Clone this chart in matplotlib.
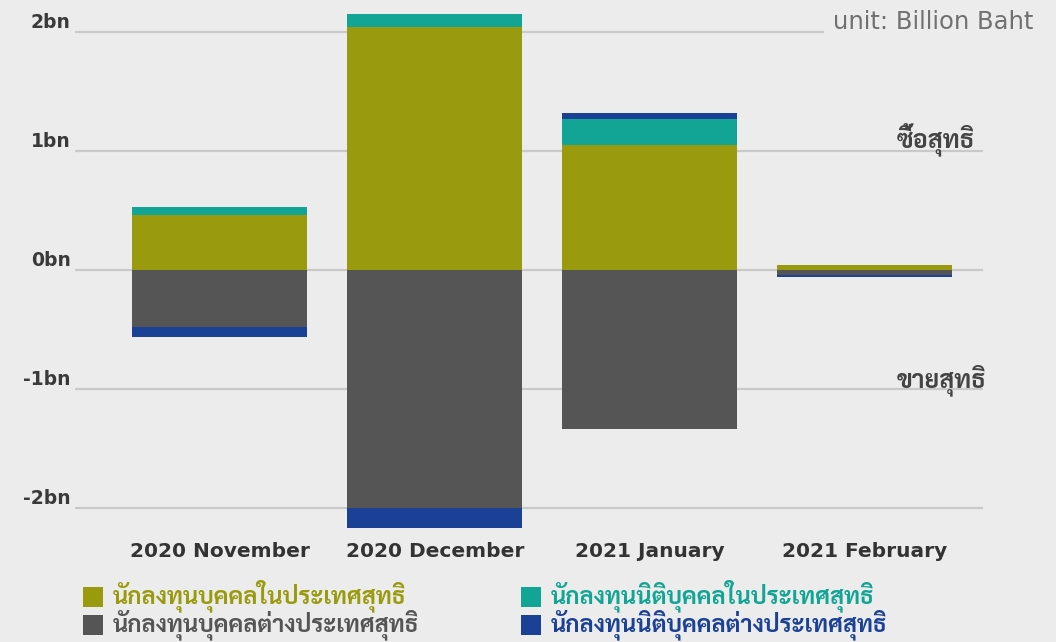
import matplotlib
matplotlib.use("Agg")
import matplotlib.pyplot as plt
from matplotlib.patches import Rectangle
import numpy as np

categories = ["2020 November", "2020 December", "2021 January", "2021 February"]
series_names = [
    "นักลงทุนบุคคลในประเทศสุทธิ",
    "นักลงทุนนิติบุคคลในประเทศสุทธิ",
    "นักลงทุนบุคคลต่างประเทศสุทธิ",
    "นักลงทุนนิติบุคคลต่างประเทศสุทธิ",
]
local_individual = [0.46, 2.04, 1.05, 0.04]
local_institution = [0.07, 0.11, 0.22, 0.0]
foreign_individual = [-0.48, -2.00, -1.34, -0.04]
foreign_institution = [-0.08, -0.17, 0.05, -0.02]
yticks = [2, 1, 0, -1, -2]
ytick_labels = ["2bn", "1bn", "0bn", "-1bn", "-2bn"]
unit_text = "unit: Billion Baht"
buy_text = "ซื้อสุทธิ"
sell_text = "ขายสุทธิ"

colors = ["#9a9a0e", "#12a595", "#555555", "#1b4196"]
bg = "#ececec"
thai = ["Sarabun", "Noto Sans Thai", "DejaVu Sans"]

plt.rcParams["font.family"] = ["DejaVu Sans"]

W, H = 1056, 642
fig = plt.figure(figsize=(W/100, H/100), dpi=100, facecolor=bg)
ax = fig.add_axes([75/W, 1-535/H, (983-75)/W, 525/H])
ax.set_facecolor(bg)

x = np.arange(len(categories))
width = 0.814
pos = np.zeros(len(categories))
neg = np.zeros(len(categories))
all_series = [local_individual, local_institution, foreign_individual, foreign_institution]
for vals, c in zip(all_series, colors):
    vals = np.array(vals, dtype=float)
    bottoms = np.where(vals >= 0, pos, neg)
    ax.bar(x, vals, width=width, bottom=bottoms, color=c, zorder=3, linewidth=0)
    pos = pos + np.where(vals >= 0, vals, 0)
    neg = neg + np.where(vals < 0, vals, 0)

ax.set_xlim(-0.6744, 3.549)
ax.set_ylim(-2.227, 2.185)

for t in yticks:
    xmax = (823-75)/908 if t == 2 else 1.0
    ax.axhline(t, xmin=0, xmax=xmax, color="#c9c9c9", linewidth=1.6, zorder=1)

ax.set_yticks(yticks)
ax.set_yticklabels(ytick_labels)
for lab in ax.get_yticklabels():
    lab.set_verticalalignment("bottom")
    lab.set_fontweight("bold")
    lab.set_color("#3a3a3a")
    lab.set_fontsize(13.5)
ax.tick_params(axis="y", length=0, pad=3)

ax.set_xticks(x)
ax.set_xticklabels(categories, fontsize=14.5, fontweight="bold", color="#333333")
ax.tick_params(axis="x", length=0, pad=5)

for s in ax.spines.values():
    s.set_visible(False)

fig.text(1033/W, 1-22/H, unit_text, ha="right", va="center",
         fontsize=17.5, color="#707070")
ax.text(0.991, 1.025, buy_text, transform=ax.get_yaxis_transform(), ha="right", va="baseline",
        fontsize=18, fontweight="bold", color="#444444", family=thai)
ax.text(1.004, -0.983, sell_text, transform=ax.get_yaxis_transform(), ha="right", va="baseline",
        fontsize=18, fontweight="bold", color="#444444", family=thai)

# legend drawn in figure pixels
legend_items = [(0, 83, 597), (2, 83, 625), (1, 521, 597), (3, 521, 625)]
for i, px, py in legend_items:
    fig.patches.append(Rectangle((px/W, 1-(py+10)/H), 20/W, 20/H, transform=fig.transFigure,
                                 facecolor=colors[i], edgecolor="none"))
    fig.text((px+30)/W, 1-(py+6)/H, series_names[i], ha="left", va="baseline",
             fontsize=17, fontweight="bold", color=colors[i], family=thai)

fig.savefig("out.png", dpi=100, facecolor=bg)
